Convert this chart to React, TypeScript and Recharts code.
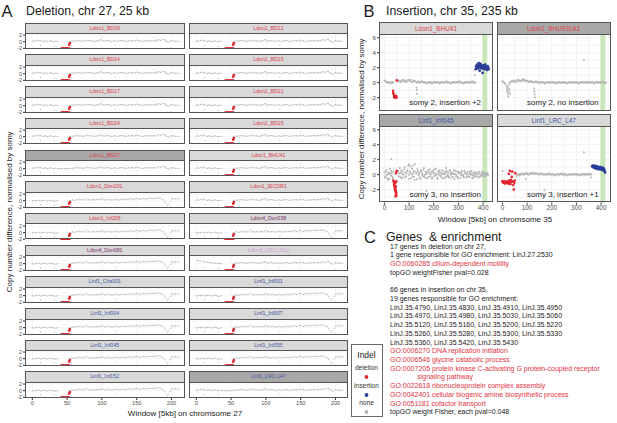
import React from 'react';
import { ScatterChart, Scatter, XAxis, YAxis, CartesianGrid, ReferenceArea } from 'recharts';

const FONT = '"Liberation Sans", Arial, sans-serif';

// ---------- panel A: chr 27, every 2nd 5kb window (0..210)
const CHR27_LDON = [
  0.1, 0.3, 0.2, 0.4, 0.5, 0.3, 0.4, 0.2, 0.1, 0.3, 0.2, 0.0, 0.1, 0.3, 0.2, 0.1, 0.0, 0.2, 0.1,
  0.0, 0.1, 0.0, -0.1, 0.0, 0.1, 0.0, 0.1,
  0.1, 0.2, 0.1, 0.3, 0.2, 0.4, 0.3, 0.2, 0.3, 0.1, 0.2, 0.3, 0.5, 0.4, 0.3, 0.2, 0.3, 0.2, 0.1, 0.2,
  0.3, 0.4, 0.6, 0.5, 0.3, 0.2, 0.3, 0.4, 0.3, 0.2, 0.1, 0.2, 0.3, 0.2, 0.1, 0.2, 0.3, 0.4, 0.3, 0.2,
  0.1, 0.2, 0.3, 0.2, 0.4, 0.3, 0.2, 0.3, 0.5, 0.4, 0.3, 0.2, 0.1, 0.2, 0.3, 0.2, 0.3, 0.4, 0.3, 0.2,
  0.3, 0.4, 0.3, 0.5, 0.6, 0.4, 0.5, 0.7, 0.6, 0.3, 0.1, -0.2, 0.2, 0.3, 0.2, 0.3, 0.1, 0.2, 0.1,
];
const CHR27_LINF = [
  0.0, -0.1, 0.1, 0.0, 0.2, 0.1, -0.1, 0.0, 0.1, 0.2, 0.0, -0.1, 0.1, 0.2, 0.1, 0.0, -0.2, -0.1, 0.0,
  0.0, 0.1, 0.0, 0.1, 0.0, 0.1, 0.2, 0.1,
  0.0, 0.2, 0.3, 0.1, 0.2, 0.4, 0.3, 0.5, 0.4, 0.2, 0.3, 0.5, 0.8, 0.4, 0.3, 0.2, 0.4, 0.3, 0.2, 0.3,
  0.4, 0.3, 0.5, 0.6, 0.4, 0.3, 0.2, 0.4, 0.5, 0.3, 0.2, 0.3, 0.4, 0.5, 0.3, 0.2, 0.3, 0.4, 0.5, 0.4,
  0.3, 0.5, 0.4, 0.6, 0.5, 0.4, 0.5, 0.6, 0.7, 0.5, 0.4, 0.6, 0.5, 0.7, 0.6, 0.5, 0.6, 0.8, 0.7, 0.6,
  0.7, 0.8, 0.6, 0.9, 0.8, 0.7, 0.5, 0.3, -0.2, -0.8, -1.4, -1.0, -0.2, 0.4, 0.6, 0.5, 0.6, 0.5, 0.6,
];
const L51P_START = [1.1, 1.0, 0.9, 0.8, 0.8, 0.7, 0.6, 0.5, 0.5, 0.4, 0.3, 0.3, 0.2, 0.2, 0.1, 0.1, 0.0, 0.1, 0.0];
const CHR27_OUTLIERS: [number, number][] = [[12, -1.2], [32, -1.3], [120, -1.0], [198, -1.9]];
const DELETION_X = [42, 43, 44, 45, 46, 47, 48, 49, 50, 51, 52, 53];
const DELETION_EDGE: [number, number][] = [[53, -0.9], [54, -0.4]];

const A_SAMPLES = [
  'Ldon1_BD09', 'Ldon1_BD12', 'Ldon1_BD14', 'Ldon1_BD15', 'Ldon1_BD17', 'Ldon1_BD21',
  'Ldon1_BD24', 'Ldon1_BD25', 'Ldon1_BD27', 'Ldon1_BHU41', 'Ldon1_Don201', 'Ldon1_IECDR1',
  'Ldon1_Inf206', 'Ldon4_Don038', 'Ldon4_Don081', 'Ldon5_LRC.L51p', 'Linf1_Cha001', 'Linf1_Inf001',
  'Linf1_Inf004', 'Linf1_Inf007', 'Linf1_Inf045', 'Linf1_Inf055', 'Linf1_Inf152', 'Linf1_LRC-L47',
];
const A_NO_DELETION = ['Ldon1_BD27', 'Linf1_LRC-L47'];
const A_LINF_PROFILE = [
  'Ldon1_Don201', 'Ldon1_Inf206', 'Ldon4_Don038', 'Ldon4_Don081', 'Linf1_Cha001', 'Linf1_Inf001',
  'Linf1_Inf004', 'Linf1_Inf007', 'Linf1_Inf045', 'Linf1_Inf055', 'Linf1_Inf152',
];
const A_X_TICKS = [0, 50, 100, 150, 200];
const A_Y_TICKS = [-2, 0, 2];

// ---------- panel B: chr 35, every 4th window
const BHU41_GREY = [
  0.3, 0.2, 0.1, 0.0, 0.1, 0.0, -0.1, 0.1, 0.0, 0.1,
  null, null, null, null,
  0.2, 0.3, 0.1, 0.3, 0.2, 0.4, 0.2, 0.3, 0.1, 0.2,
  0.4, 0.3, 0.2, 0.4, 0.1, 0.2, 0.3, 0.2, 0.1, 0.0,
  0.1, 0.2, 0.0, 0.1, 0.2, 0.1, 0.0, 0.1, 0.0, -0.1,
  0.0, 0.1, 0.0, 0.1, -0.1, 0.0, 0.1, 0.0, 0.1, 0.0,
  0.1, 0.0, -0.1, 0.0, 0.1, 0.0, 0.1, 0.0, 0.1, 0.2,
  0.0, 0.1, 0.0, -0.1, 0.0, 0.1, 0.0, 0.1, 0.0, 0.1,
  0.0, 0.1, 0.2, 0.0, 0.1, 0.0, -0.1, 0.0, 0.1, 0.0,
  0.1, 0.0, 0.1, 0.0, 0.1, 0.2, 0.0, 0.1, 0.0,
];
const BHU41_EXTRA: [number, number][] = [[130, -0.7], [131, -1.0], [132, -1.5], [366, 1.0]];
const BHU41_RED: [number, number][] = [
  [35, -1.1], [36, -1.4], [38, -1.6], [39, -1.9], [40, -1.8], [41, -2.0], [42, -1.9],
  [44, -1.8], [45, -2.0], [46, -1.9], [48, -1.8], [49, -2.0], [50, 0.3],
];
const BHU41_BLUE: [number, number][] = [
  [370, 1.8], [372, 2.2], [374, 2.0], [376, 2.4], [378, 1.9], [380, 2.1], [382, 2.6], [384, 2.3],
  [386, 1.6], [388, 2.0], [390, 2.5], [392, 2.2], [394, 1.9], [396, 2.1], [398, 1.3], [400, 2.3],
  [402, 2.0], [404, 1.8], [406, 2.2], [408, 2.4], [410, 1.9], [412, 2.1], [414, 2.0], [416, 1.7],
  [418, 2.2], [420, 2.0], [422, 1.8],
];

const BHU931_GREY = [
  0.2, 0.1, 0.0, -0.2, -0.5, -0.8, -0.4, -0.1, 0.1, 0.2,
  0.2, 0.3, 0.2, 0.1, 0.3, 0.2, 0.4, 0.3, 0.2, 0.3,
  0.4, 0.3, 0.5, 0.3, 0.2, 0.3, 0.2, 0.1, 0.2, 0.1,
  0.2, 0.1, 0.0, 0.1, 0.2, 0.1, 0.0, 0.1, 0.0, 0.1,
  0.0, 0.1, 0.0, -0.1, 0.0, 0.1, 0.0, 0.1, 0.0, 0.0,
  0.1, 0.0, 0.1, 0.0, -0.1, 0.0, 0.1, 0.0, 0.1, 0.0,
  0.0, 0.1, 0.0, 0.1, 0.0, -0.1, 0.0, 0.1, 0.0, 0.1,
  0.0, 0.1, 0.0, 0.1, 0.0, 0.1, 0.0, -0.1, 0.0, 0.1,
  0.0, 0.1, 0.0, 0.1, 0.0, 0.1, 0.0, 0.1, 0.0, 0.1,
  0.0, 0.1, 0.0, -0.1, 0.0, 0.1, 0.0, 0.1, 0.0, 0.1,
  0.0, 0.1, 0.0, 0.1, 0.0, 0.0,
];
const BHU931_EXTRA: [number, number][] = [
  [18, -1.0], [20, -1.3], [22, -1.6], [24, -1.9], [26, -1.2], [28, -0.9], [30, -1.5], [22, -0.7],
  [128, -0.8], [130, -1.2], [131, -1.6], [132, -2.0], [330, 3.0],
];

const INF045_GREY = [
  0.3, -0.2, 0.4, -0.5, 0.1, -0.6, 0.2, 0.5, -0.3, 0.4,
  null, null, null, null,
  0.5, 0.2, -0.3, 0.6, 0.1, -0.4, 0.7, 0.3, -0.2, 0.5,
  1.2, 0.0, 0.4, -0.5, 0.8, 0.2, -0.3, 1.4, 0.3, -0.6,
  0.5, 0.1, -0.4, 0.6, 0.2, -0.2, 0.9, 0.0, -0.5, 0.3,
  0.4, -0.3, 0.7, 0.1, -0.6, 0.5, 0.2, -0.2, 0.8, 0.0,
  -0.4, 0.3, 0.6, -0.1, 0.2, -0.5, 0.4, 0.1, -0.3, 0.5,
  0.0, -0.2, 0.6, 0.2, -0.4, 0.3, 0.1, -0.6, 0.5, 0.0,
  -0.3, 0.4, 0.2, -0.5, 0.3, 0.0, -0.2, 0.5, 0.1, -0.4,
  0.3, 0.0, -0.3, 0.4, 0.1, -0.5, 0.2, 0.0, -0.2, 0.3,
  0.1, -0.4, 0.3, 0.0, -0.2, 0.4, 0.1, -0.3, 0.2, 0.0,
  0.2, -0.1,
];
const INF045_GREY_ODD = [
  -0.4, 0.6, 0.0, -0.7, 0.3, 0.8, -0.1, 0.2, -0.5,
  null, null, null, null, null,
  -0.2, 0.9, 0.3, -0.5, 0.4, 0.0, 1.0, -0.3, 0.2, 0.6,
  -0.6, 0.3, 1.1, 0.1, -0.2, 0.5, -0.7, 0.4, 0.2, 0.8,
  -0.1, 0.3, -0.6, 0.5, 0.0, 0.7, -0.3, 0.4, 0.1, -0.5,
  0.6, 0.2, -0.2, 0.4, -0.4, 0.3, 0.7, -0.1, 0.2, -0.6,
  0.5, 0.0, 0.3, -0.3, 0.6, 0.1, -0.5, 0.2, 0.4, -0.2,
  0.3, -0.4, 0.5, 0.0, 0.2, -0.3, 0.6, 0.1, -0.2, 0.4,
  -0.5, 0.2, 0.3, -0.1, 0.5, 0.0, -0.4, 0.3, 0.1, -0.2,
  0.4, -0.3, 0.2, 0.0, 0.5, -0.1, -0.4, 0.3, 0.2, -0.2,
  0.1, 0.4, -0.3, 0.0, 0.2, -0.1, 0.3, 0.0, -0.2, 0.1,
  0.2,
];
const INF045_EXTRA: [number, number][] = [[28, 2.1], [100, 1.4], [115, 1.2], [170, -2.2], [250, 0.9]];
const INF045_RED: [number, number][] = [
  [36, -0.8], [38, -1.0], [39, -1.4], [40, -1.2], [41, -1.7], [42, -1.5], [43, -2.0], [44, -1.8],
  [45, -2.3], [46, -2.1], [47, -2.6], [48, -2.4], [49, -2.8], [44, -1.1], [46, -1.6], [48, -0.9],
  [50, 0.5], [47, 0.2], [45, -2.9],
];

const LRC_GREY = [
  -0.2, 0.0, 0.1, -0.1, 0.1, 0.0, 0.2, 0.1, 0.0, 0.2,
  0.1, 0.2, 0.0, 0.1, 0.2, 0.1, 0.2, 0.3, 0.1, 0.2,
  0.1, 0.2, 0.1, 0.0, 0.1, 0.2, 0.1, 0.0, 0.1, 0.0,
  0.1, 0.0, 0.1, 0.2, 0.0, 0.1, 0.0, 0.1, 0.0, -0.1,
  0.0, 0.1, 0.0, 0.1, 0.0, 0.1, 0.2, 0.0, 0.1, 0.0,
  0.1, 0.0, -0.1, 0.0, 0.1, 0.0, 0.1, 0.0, 0.1, 0.0,
  0.1, 0.0, 0.1, 0.0, -0.1, 0.0, 0.1, 0.0, 0.1, 0.0,
  0.1, 0.0, 0.1, 0.0, 0.1, 0.0, 0.1,
];
const LRC_EXTRA: [number, number][] = [[0, 0.5], [95, -0.6], [170, -2.1], [330, 3.0], [360, -0.4]];
const LRC_RED: [number, number][] = [
  [0, -0.9], [2, -1.0], [4, -1.1], [6, -0.9], [8, -1.0], [10, -1.2], [12, -1.0], [14, -1.1],
  [16, -0.9], [18, -1.0], [20, -1.1], [22, -1.2], [24, -1.0], [26, -0.8], [28, -1.1], [30, -1.0],
  [32, -1.3], [34, -0.7], [36, -1.0], [38, -0.3], [40, 0.4], [42, -0.9], [44, -1.4], [46, -2.0],
  [48, -1.1], [50, -0.8], [52, 0.2], [30, 0.5], [26, 0.1],
];
const LRC_BLUE: [number, number][] = [
  [364, 1.1], [366, 1.2], [368, 1.0], [370, 1.1], [372, 0.9], [374, 1.2], [376, 1.0], [378, 1.1],
  [380, 0.8], [382, 1.0], [384, 1.1], [386, 0.9], [388, 1.0], [390, 0.7], [392, 1.0], [394, 0.9],
  [396, 0.8], [398, 1.0], [400, 0.7], [402, 0.9], [404, 0.8], [406, 0.6], [408, 0.9], [410, 0.8],
  [412, 0.7], [414, 0.5], [416, 0.3],
];
const B_X_TICKS = [0, 100, 200, 300, 400];
const B_Y_TICKS = [-2, 0, 2, 4, 6];
const INSERTION_BAND = [397, 417];

const C_LINES: [string, boolean][] = [
  ['17 genes in deletion on chr 27,', false],
  ['1 gene responsible for GO enrichment: LinJ.27.2530', false],
  ['GO:0060285 cilium-dependent motility', true],
  ['topGO weightFisher pval=0.028', false],
  ['', false],
  ['66 genes in insertion on chr 35,', false],
  ['19 genes responsible for GO enrichment:', false],
  ['LinJ.35.4790, LinJ.35.4830, LinJ.35.4910, LinJ.35.4950', false],
  ['LinJ.35.4970, LinJ.35.4980, LinJ.35.5030, LinJ.35.5060', false],
  ['LinJ.35.5120, LinJ.35.5160, LinJ.35.5200, LinJ.35.5220', false],
  ['LinJ.35.5260, LinJ.35.5280, LinJ.35.5300, LinJ.35.5330', false],
  ['LinJ.35.5360, LinJ.35.5420, LinJ.35.5430', false],
  ['GO:0006270 DNA replication initiation', true],
  ['GO:0006546 glycine catabolic process', true],
  ['GO:0007205 protein kinase C-activating G protein-coupled receptor', true],
  ['              signaling pathway', true],
  ['GO:0022618 ribonucleoprotein complex assembly', true],
  ['GO:0042401 cellular biogenic amine biosynthetic process', true],
  ['GO:0051181 cofactor transport', true],
  ['topGO weight Fisher, each pval=0.048', false],
];

const SPECIES_COLOR: Record<string, string> = {
  Ldon1: '#dc3f4d',
  Ldon4: '#7c2f5d',
  Ldon5: '#cda2ca',
  Linf1: '#4457a3',
};
const RED = '#e3262f';
const BLUE = '#2b3d98';
const GREY = '#b4b4b4';
const BORDER = '#555555';
const GO_RED = '#e2323f';

type Pt = { x: number; y: number };

const pairs = (list: [number, number][]): Pt[] => list.map(([x, y]) => ({ x, y }));
const windows = (start: number, step: number, vals: (number | null)[]): Pt[] => {
  const out: Pt[] = [];
  vals.forEach((v, i) => {
    if (v !== null) out.push({ x: start + i * step, y: v });
  });
  return out;
};

const dot = (r: number, fill: string) => (p: any) => <circle cx={p.cx} cy={p.cy} r={r} fill={fill} />;

function chr27Grey(name: string): Pt[] {
  const prof = A_LINF_PROFILE.includes(name) ? CHR27_LINF : CHR27_LDON;
  const del = !A_NO_DELETION.includes(name);
  const out: Pt[] = [];
  prof.forEach((v, i) => {
    const w = i * 2;
    if (del && w >= 38 && w <= 52) return;
    const y = name === 'Ldon5_LRC.L51p' && i < L51P_START.length ? L51P_START[i] : v;
    out.push({ x: w, y });
  });
  return out.concat(pairs(CHR27_OUTLIERS));
}
function chr27Red(name: string): Pt[] {
  if (A_NO_DELETION.includes(name)) return [];
  return DELETION_X.map((x) => ({ x, y: -2.05 })).concat(pairs(DELETION_EDGE));
}

const B_PANELS = [
  {
    name: 'Ldon1_BHU41', dark: false, note: 'somy 2, insertion +2',
    grey: windows(0, 4, BHU41_GREY).concat(pairs(BHU41_EXTRA)),
    red: pairs(BHU41_RED), blue: pairs(BHU41_BLUE),
  },
  {
    name: 'Ldon1_BHU931A1', dark: true, note: 'somy 2, no insertion',
    grey: windows(0, 4, BHU931_GREY).concat(pairs(BHU931_EXTRA)),
    red: [], blue: [],
  },
  {
    name: 'Linf1_Inf045', dark: true, note: 'somy 3, no insertion',
    grey: windows(0, 4, INF045_GREY).concat(windows(2, 4, INF045_GREY_ODD), pairs(INF045_EXTRA)),
    red: pairs(INF045_RED), blue: [],
  },
  {
    name: 'Linf1_LRC_L47', dark: false, note: 'somy 3, insertion +1',
    grey: windows(56, 4, LRC_GREY).concat(pairs(LRC_EXTRA)),
    red: pairs(LRC_RED), blue: pairs(LRC_BLUE),
  },
];

// geometry
const A_COL_X = [25, 188.7];
const A_W = 159.5;
const A_ROW0 = 22.7;
const A_PITCH = 31.7;
const A_STRIP = 10.6;
const A_PLOT = 16;
const A_PAD = 4;

const B_COL_X = [379, 496.7];
const B_W = 114;
const B_ROW_Y = [22.3, 113.8];
const B_STRIP = 12;
const B_PLOT = 76.7;
const B_PAD = 5;

const tickStyle = (size: number) => ({ fontSize: size, fill: '#4d4d4d', fontFamily: FONT });

function Frame({ x, y, w, strip, plot, label, color, dark, size }: any) {
  return (
    <div
      style={{
        position: 'absolute', left: x, top: y, width: w, height: strip + plot,
        border: `1px solid ${BORDER}`, boxSizing: 'border-box', pointerEvents: 'none', zIndex: 2,
      }}
    >
      <div
        style={{
          height: strip - 1, lineHeight: `${strip - 1}px`, background: dark ? '#a8a8a8' : '#d9d9d9',
          borderBottom: `1px solid ${BORDER}`, color, fontSize: size, textAlign: 'center',
          whiteSpace: 'nowrap', overflow: 'hidden',
        }}
      >
        {label}
      </div>
    </div>
  );
}

function AFacet({ name, idx }: { name: string; idx: number }) {
  const col = idx % 2;
  const row = Math.floor(idx / 2);
  const top = A_ROW0 + row * A_PITCH;
  const bottom = row === 11;
  const yw = col === 0 ? 14 : 0;
  const w = A_W + yw;
  const h = A_PAD + A_PLOT + (bottom ? 12 : A_PAD);
  const species = name.split('_')[0];
  return (
    <>
      <div style={{ position: 'absolute', left: A_COL_X[col] - yw, top: top + A_STRIP - A_PAD, width: w, height: h, zIndex: 1 }}>
        <ScatterChart width={w} height={h} margin={{ top: A_PAD, right: 0, bottom: bottom ? 0 : A_PAD, left: 0 }}>
          <CartesianGrid stroke="#efefef" strokeWidth={0.5} verticalValues={A_X_TICKS} horizontalValues={A_Y_TICKS} />
          <XAxis type="number" dataKey="x" domain={[-10.5, 218.7]} ticks={A_X_TICKS} interval={0} hide={!bottom}
            height={12} tickSize={2} tickMargin={1} axisLine={false} tickLine={{ stroke: '#333' }}
            tick={tickStyle(5.6)} allowDataOverflow />
          <YAxis type="number" dataKey="y" domain={[-2.2, 2.6]} ticks={A_Y_TICKS} interval={0} hide={col !== 0}
            width={14} tickSize={2} tickMargin={1} axisLine={false} tickLine={{ stroke: '#333' }}
            tick={tickStyle(5.4)} allowDataOverflow />
          <Scatter data={chr27Grey(name)} isAnimationActive={false} shape={dot(0.55, '#a9a9a9')} />
          <Scatter data={chr27Red(name)} isAnimationActive={false} shape={dot(1.3, RED)} />
        </ScatterChart>
      </div>
      <Frame x={A_COL_X[col]} y={top} w={A_W} strip={A_STRIP} plot={A_PLOT} label={name}
        color={SPECIES_COLOR[species]} dark={A_NO_DELETION.includes(name)} size={5.2} />
    </>
  );
}

function BFacet({ panel, idx }: { panel: (typeof B_PANELS)[number]; idx: number }) {
  const col = idx % 2;
  const row = Math.floor(idx / 2);
  const top = B_ROW_Y[row];
  const bottom = row === 1;
  const yw = col === 0 ? 10 : 0;
  const w = B_W + yw;
  const h = B_PAD + B_PLOT + (bottom ? 12 : B_PAD);
  const species = panel.name.split('_')[0];
  return (
    <>
      <div style={{ position: 'absolute', left: B_COL_X[col] - yw, top: top + B_STRIP - B_PAD, width: w, height: h, zIndex: 1 }}>
        <ScatterChart width={w} height={h} margin={{ top: B_PAD, right: 0, bottom: bottom ? 0 : B_PAD, left: 0 }}>
          <CartesianGrid stroke="#ebebeb" strokeWidth={0.6}
            verticalValues={[0, 50, 100, 150, 200, 250, 300, 350, 400]}
            horizontalValues={[-3, -2, -1, 0, 1, 2, 3, 4, 5, 6]} />
          <XAxis type="number" dataKey="x" domain={[-22, 440]} ticks={B_X_TICKS} interval={0} hide={!bottom}
            height={12} tickSize={2} tickMargin={1} axisLine={false} tickLine={{ stroke: '#333' }}
            tick={tickStyle(6.4)} allowDataOverflow />
          <YAxis type="number" dataKey="y" domain={[-3.75, 6.5]} ticks={B_Y_TICKS} interval={0} hide={col !== 0}
            width={10} tickSize={2} tickMargin={1} axisLine={false} tickLine={{ stroke: '#333' }}
            tick={tickStyle(6.2)} allowDataOverflow />
          <ReferenceArea x1={INSERTION_BAND[0]} x2={INSERTION_BAND[1]} fill="#c9e7ba" fillOpacity={1} stroke="none" />
          <Scatter data={panel.grey} isAnimationActive={false} shape={dot(1.0, GREY)} />
          <Scatter data={panel.red} isAnimationActive={false} shape={dot(1.3, RED)} />
          <Scatter data={panel.blue} isAnimationActive={false} shape={dot(1.4, BLUE)} />
        </ScatterChart>
      </div>
      <Frame x={B_COL_X[col]} y={top} w={B_W} strip={B_STRIP} plot={B_PLOT} label={panel.name}
        color={SPECIES_COLOR[species]} dark={panel.dark} size={6.4} />
      <div style={{
        position: 'absolute', left: B_COL_X[col] + 28, top: top + B_STRIP + B_PLOT - 13, width: 74,
        fontSize: 8, lineHeight: '10px', color: '#1a1a1a', textAlign: 'right', whiteSpace: 'nowrap', zIndex: 3,
      }}>
        {panel.note}
      </div>
    </>
  );
}

function Text({ x, y, size, children, color = '#1a1a1a', align = 'left', width = 300 }: any) {
  const left = align === 'center' ? x - width / 2 : x;
  return (
    <div style={{
      position: 'absolute', left, top: y - size * 0.6, width, height: size * 1.2, lineHeight: `${size * 1.2}px`,
      fontSize: size, color, textAlign: align, whiteSpace: 'pre', zIndex: 4,
    }}>
      {children}
    </div>
  );
}

function VText({ x, y, size, children }: any) {
  return (
    <div style={{
      position: 'absolute', left: x - 120, top: y - size * 0.6, width: 240, height: size * 1.2,
      lineHeight: `${size * 1.2}px`, fontSize: size, color: '#1a1a1a', textAlign: 'center',
      transform: 'rotate(-90deg)', whiteSpace: 'nowrap',
    }}>
      {children}
    </div>
  );
}

function LegendDot({ cy, color }: { cy: number; color: string }) {
  return (
    <svg style={{ position: 'absolute', left: 362, top: cy - 3, zIndex: 4 }} width={9} height={6}>
      <circle cx={4.5} cy={3} r={1.9} fill={color} />
    </svg>
  );
}

export default function App() {
  return (
    <div style={{
      position: 'absolute', left: 0, top: 0, width: 617, height: 423, background: '#fff',
      fontFamily: FONT, overflow: 'hidden',
    }}>
      <Text x={1.5} y={12} size={16.5}>A</Text>
      <Text x={26} y={11} size={12.3}>Deletion, chr 27, 25 kb</Text>
      <Text x={363.5} y={12} size={16.5}>B</Text>
      <Text x={386} y={11} size={12.3}>Insertion, chr 35, 235 kb</Text>
      <Text x={364} y={237.5} size={16.5}>C</Text>
      <Text x={386} y={237} size={12.3}>{'Genes  & enrichment'}</Text>

      {A_SAMPLES.map((name, i) => <AFacet key={name} name={name} idx={i} />)}
      {B_PANELS.map((p, i) => <BFacet key={p.name} panel={p} idx={i} />)}

      <VText x={10} y={212} size={8}>Copy number difference, normalised by somy</VText>
      <VText x={362} y={119} size={8}>Copy number difference, normalised by somy</VText>
      <Text x={185} y={413.3} size={8} align="center" width={200}>Window [5kb] on chromsome 27</Text>
      <Text x={495} y={219.3} size={8} align="center" width={200}>Window [5kb] on chromsome 35</Text>

      {C_LINES.map(([t, red], i) => (
        <Text key={i} x={390} y={246.7 + i * 8.73} size={7} color={red ? GO_RED : '#1a1a1a'} width={230}>{t}</Text>
      ))}

      <div style={{
        position: 'absolute', left: 351, top: 344, width: 31.5, height: 73, border: '1px solid #666',
        boxSizing: 'border-box', background: '#fff', zIndex: 3,
      }} />
      <Text x={366.5} y={355} size={8.5} align="center" width={40}>Indel</Text>
      <Text x={366.5} y={367.7} size={6.6} align="center" width={40} color="#333">deletion</Text>
      <LegendDot cy={377.3} color={RED} />
      <Text x={366.5} y={386} size={6.6} align="center" width={40} color="#333">insertion</Text>
      <LegendDot cy={395} color={BLUE} />
      <Text x={366.5} y={403.3} size={6.6} align="center" width={40} color="#333">none</Text>
      <LegendDot cy={412.3} color={GREY} />
    </div>
  );
}
